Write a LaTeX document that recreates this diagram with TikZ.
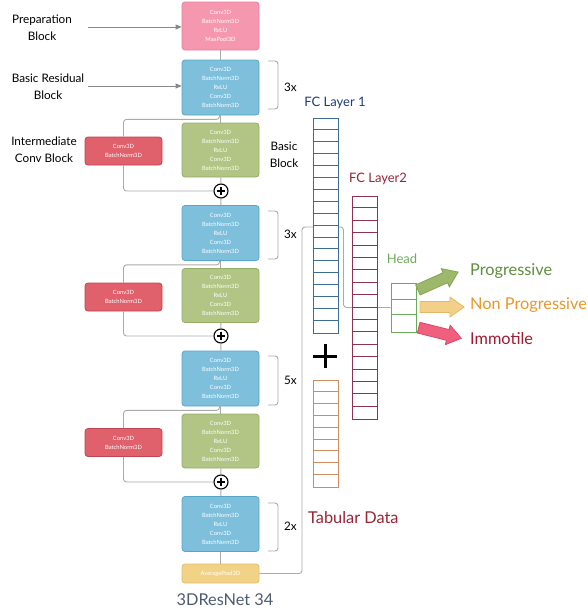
\documentclass[tikz,border=0pt]{standalone}
\usepackage{fontspec}
\setmainfont{Lato}
\usetikzlibrary{arrows.meta,calc}
\definecolor{pinkF}{HTML}{F597AE}\definecolor{pinkD}{HTML}{E5839C}
\definecolor{blueF}{HTML}{7EC0DC}\definecolor{blueD}{HTML}{56A6C8}
\definecolor{greenF}{HTML}{B2C585}\definecolor{greenD}{HTML}{96AE68}
\definecolor{redF}{HTML}{E0606C}\definecolor{redD}{HTML}{BE4652}
\definecolor{avgF}{HTML}{F2D287}\definecolor{avgD}{HTML}{E3BC68}
\definecolor{lineC}{HTML}{AAAAAA}
\definecolor{fcA}{HTML}{3C6E91}\definecolor{fcB}{HTML}{8E3354}
\definecolor{headC}{HTML}{6BAA5A}\definecolor{tabC}{HTML}{D08C5E}
\definecolor{fcAt}{HTML}{1F3C78}\definecolor{fcBt}{HTML}{9B2335}
\definecolor{progF}{HTML}{9DB86B}\definecolor{progD}{HTML}{86A556}
\definecolor{nonF}{HTML}{F2D08A}\definecolor{nonD}{HTML}{E3B866}
\definecolor{immF}{HTML}{F0607E}\definecolor{immD}{HTML}{D84A68}
\definecolor{progT}{HTML}{5E8E3E}\definecolor{nonT}{HTML}{E8962A}
\definecolor{immT}{HTML}{9E1B32}\definecolor{resT}{HTML}{4D5B70}
\begin{document}
\begin{tikzpicture}[x=1pt,y=-1pt,
  blk/.style={rounded corners=3pt, line width=0.8pt, minimum width=77pt, text=white,
    font=\fontsize{5.8}{9}\selectfont, align=center, inner sep=0pt},
  prepbox/.style={blk, fill=pinkF, draw=pinkD, minimum height=48pt},
  resbox/.style={blk, fill=blueF, draw=blueD, minimum height=55pt},
  basbox/.style={blk, fill=greenF, draw=greenD, minimum height=54pt},
  intbox/.style={blk, fill=redF, draw=redD, minimum height=28pt},
  avgbox/.style={blk, fill=avgF, draw=avgD, minimum height=19pt},
  ln/.style={draw=lineC, line width=0.9pt},
  brk/.style={draw=lineC, line width=0.9pt, rounded corners=3pt},
  lbl/.style={font=\fontsize{11.7}{17}\selectfont, align=center, inner sep=0pt},
  ttl/.style={font=\fontsize{13}{16}\selectfont, inner sep=0pt},
  big/.style={font=\fontsize{16.3}{19}\selectfont, inner sep=0pt},
  plusc/.style={circle, draw=black, line width=1.1pt, minimum size=14pt, inner sep=0pt, fill=white,
    path picture={\draw[line width=1.2pt] ($(path picture bounding box.center)+(-4.2,0)$) -- ++(8.4,0)
      ($(path picture bounding box.center)+(0,-4.2)$) -- ++(0,8.4);}},
  col/.style={draw=#1, fill=white, line width=0.9pt, minimum width=25pt, inner sep=0pt},
  fatarrow/.style={line width=0.8pt, line join=miter},
  gar/.style={draw=lineC!80!black, line width=0.8pt, -{Triangle[length=6pt,width=5pt]}}
]
\useasboundingbox (0,0) rectangle (587,613);

% left column of blocks
\node[prepbox] (prep) at (220.5,26) {Conv3D\\BatchNorm3D\\ReLU\\MaxPool3D};
\node[resbox] (b1) at (220.5,87.5) {Conv3D\\BatchNorm3D\\ReLU\\Conv3D\\BatchNorm3D};
\node[basbox] (g1) at (220.5,150) {Conv3D\\BatchNorm3D\\ReLU\\Conv3D\\BatchNorm3D};
\node[intbox] (r1) at (123.5,151) {Conv3D\\BatchNorm3D};
\node[plusc] (p1) at (221,191) {};
\node[resbox] (b2) at (220.5,233) {Conv3D\\BatchNorm3D\\ReLU\\Conv3D\\BatchNorm3D};
\node[basbox] (g2) at (220.5,295.5) {Conv3D\\BatchNorm3D\\ReLU\\Conv3D\\BatchNorm3D};
\node[intbox] (r2) at (123.5,297) {Conv3D\\BatchNorm3D};
\node[plusc] (p2) at (221,336) {};
\node[resbox] (b3) at (220.5,378.5) {Conv3D\\BatchNorm3D\\ReLU\\Conv3D\\BatchNorm3D};
\node[basbox] (g3) at (220.5,441) {Conv3D\\BatchNorm3D\\ReLU\\Conv3D\\BatchNorm3D};
\node[intbox] (r3) at (123.5,442.5) {Conv3D\\BatchNorm3D};
\node[plusc] (p3) at (221,482) {};
\node[resbox] (b4) at (220.5,524) {Conv3D\\BatchNorm3D\\ReLU\\Conv3D\\BatchNorm3D};
\node[avgbox] (avg) at (220.5,573.5) {AveragePool3D};

% main vertical connections
\draw[ln] (prep) -- (b1);
\draw[ln] (b1) -- (g1);
\draw[ln] (g1) -- (p1);
\draw[ln] (p1) -- (b2);
\draw[ln] (b2) -- (g2);
\draw[ln] (g2) -- (p2);
\draw[ln] (p2) -- (b3);
\draw[ln] (b3) -- (g3);
\draw[ln] (g3) -- (p3);
\draw[ln] (p3) -- (b4);
\draw[ln] (b4) -- (avg);

% skip connections
\foreach \b/\r/\p in {b1/r1/p1, b2/r2/p2, b3/r3/p3}{
  \draw[ln, rounded corners=3pt] ([xshift=-1pt]\b.south) -- ++(0,4) -| (\r.north);
  \draw[ln, rounded corners=3pt] (\r.south) |- (\p.west);
}

% brackets
\draw[brk] (268,61) -- (278,61) -- (278,109) -- (268,109);
\node[lbl, anchor=west] (n1) at (284,87) {3x};
\draw[brk] (268,211) -- (278,211) -- (278,259) -- (268,259);
\node[lbl, anchor=west] (n2) at (284,234) {3x};
\draw[brk] (268,356) -- (278,356) -- (278,405) -- (268,405);
\node[lbl, anchor=west] (n3) at (284,380) {5x};
\draw[brk] (268,503) -- (278,503) -- (278,551) -- (268,551);
\node[lbl, anchor=west] (n4) at (284,526) {2x};

% left labels
\node[lbl] (lprep) at (42,28) {Preparation\\Block};
\node[lbl] (lres) at (48,87) {Basic Residual\\Block};
\node[lbl] (lint) at (44,150) {Intermediate\\Conv Block};
\node[lbl] (lbas) at (284,155) {Basic\\Block};
\coordinate (ap) at (88,27);
\coordinate (ar) at (88,86);
\draw[gar] (ap) -- (ap -| prep.west);
\draw[gar] (ar) -- (ar -| b1.west);

% connection from average pool to head
\coordinate (c1) at (302,573.5);
\coordinate (c2) at (302,227);
\coordinate (c3) at (343.5,227);
\coordinate (c4) at (343.5,307.5);
\node[col=headC, minimum height=49pt] (head) at (403.5,307.5) {};
\draw[ln, rounded corners=3pt] (avg.east) -- (c1) -- (c2) -- (c3) -- (c4) -- (head.west);

% FC columns
\node[col=fcA, minimum height=215pt] (fc1) at (325.5,225.5) {};
\foreach \i in {1,...,17} \draw[fcA, line width=0.9pt] ($(fc1.north west)+(0,\i*215/18)$) -- ++(25,0);
\node[col=fcB, minimum height=223pt] (fc2) at (364.5,307.5) {};
\foreach \i in {1,...,17} \draw[fcB, line width=0.9pt] ($(fc2.north west)+(0,\i*223/18)$) -- ++(25,0);
\node[col=tabC, minimum height=107pt] (tab) at (325.5,433.5) {};
\foreach \i in {1,...,8} \draw[tabC, line width=0.9pt] ($(tab.north west)+(0,\i*107/9)$) -- ++(25,0);
\node[col=headC, minimum height=49pt] (head2) at (403.5,307.5) {};
\draw[headC, line width=0.9pt] ($(head2.north west)+(0,16.5)$) -- ++(25,0);
\draw[headC, line width=0.9pt] ($(head2.north west)+(0,32)$) -- ++(25,0);

% big plus
\draw[line width=3pt] (313,356) -- (337,356) (325,344) -- (325,368);

% column titles
\node[ttl, text=fcAt] (tfc1) at (335,103) {FC Layer 1};
\node[ttl, text=fcBt] (tfc2) at (378,179) {FC Layer2};
\node[ttl, text=headC] (thead) at (402,259) {Head};
\node[big, text=fcBt, anchor=west] (ttab) at (308,518) {Tabular Data};
\node[big, text=resT] (tres) at (225,600) {3DResNet 34};

% output arrows
\foreach \cx/\cy/\ang/\fc/\dc in {438/281/24/progF/progD, 442/307/0/nonF/nonD, 440/333/-14/immF/immD}{
  \begin{scope}[shift={(\cx,\cy)}, rotate=\ang]
    \draw[fatarrow, fill=\fc, draw=\dc] (-22,-5.5) -- (8,-5.5) -- (8,-10) -- (22,0) -- (8,10) -- (8,5.5) -- (-22,5.5) -- cycle;
  \end{scope}
}
\node[big, text=progT, anchor=west] (tprog) at (470,271) {Progressive};
\node[big, text=nonT, anchor=west] (tnon) at (470,305) {Non Progressive};
\node[big, text=immT, anchor=west] (timm) at (470,339) {Immotile};
\end{tikzpicture}
\end{document}
